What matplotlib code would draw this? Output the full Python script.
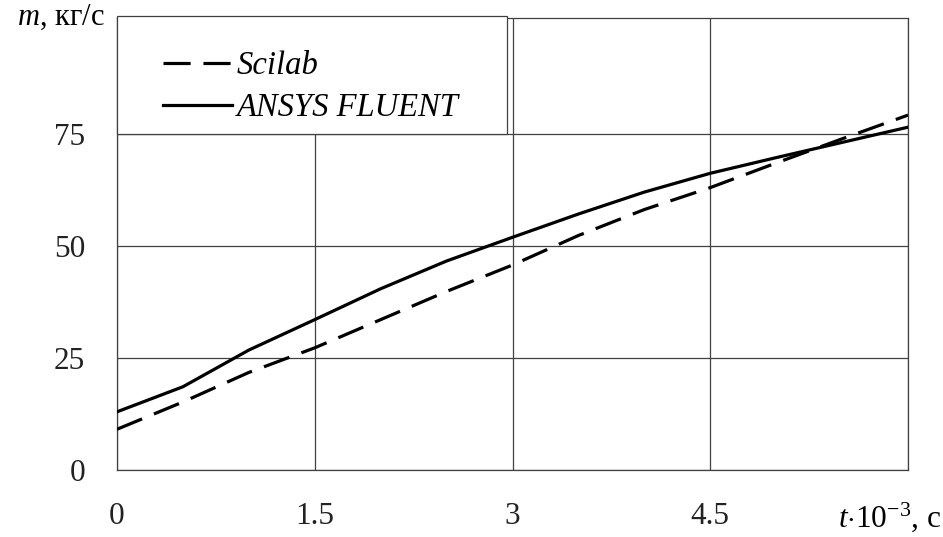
import matplotlib
matplotlib.use('Agg')
import matplotlib.pyplot as plt
from matplotlib.patches import Rectangle

# данные
t = [0, 0.5, 1.0, 1.5, 2.0, 2.5, 3.0, 3.5, 4.0, 4.5, 5.0, 5.5, 6.0]
m_scilab = [9.1, 15.2, 21.8, 27.3, 33.6, 39.9, 45.8, 52.4, 58.2, 63.1, 68.6, 74.0, 79.3]
m_fluent = [13.0, 18.6, 26.8, 33.6, 40.5, 46.7, 52.0, 57.2, 62.1, 66.3, 69.8, 73.2, 76.6]

x_ticks = [0, 1.5, 3, 4.5, 6]
x_labels = ['0', '1.5', '3', '4.5', '']
y_ticks = [0, 25, 50, 75]

plt.rcParams['font.family'] = ['Liberation Serif', 'DejaVu Serif']
plt.rcParams['mathtext.fontset'] = 'custom'
plt.rcParams['mathtext.rm'] = 'Liberation Serif'
plt.rcParams['mathtext.it'] = 'Liberation Serif:italic'

fig = plt.figure(figsize=(9.43, 5.37), dpi=100)
ax = fig.add_axes([117 / 943, 1 - 470 / 537, 791 / 943, 452 / 537])

ax.plot(t, m_scilab, color='black', lw=2.3, dashes=(8.5, 4), label='Scilab', zorder=3)
ax.plot(t, m_fluent, color='black', lw=2.3, label='ANSYS FLUENT', zorder=3)

ax.set_xlim(0, 6)
ax.set_ylim(0, 101)
ax.set_xticks(x_ticks)
ax.set_xticklabels(x_labels)
ax.set_yticks(y_ticks)
ax.tick_params(length=0, labelsize=22.5, colors='#222222')
ax.tick_params(axis='x', pad=23)
ax.tick_params(axis='y', pad=23)
ax.grid(True, color='#404040', lw=0.9)
ax.set_axisbelow(True)
for s in ax.spines.values():
    s.set_color('#404040')
    s.set_linewidth(0.9)

# рамка легенды
ax.add_patch(Rectangle((0, 75), 2.96, 26.5, facecolor='white', edgecolor='#404040',
                       lw=0.9, zorder=4, clip_on=False))
leg = ax.legend(loc='upper left', bbox_to_anchor=(163 / 943, 1 - 51 / 537),
                bbox_transform=fig.transFigure, frameon=False, borderpad=0,
                borderaxespad=0, handlelength=2.1, handletextpad=0.16,
                labelspacing=0.35, prop={'size': 23.5, 'style': 'italic'})
leg.set_zorder(5)

fig.text(105 / 943, 1 - 17 / 537, '$m$, кг/с', fontsize=22, ha='right', va='center')
fig.text(941 / 943, 1 - 517 / 537, r'$t{\cdot}10^{-3}$, с', fontsize=22.5, ha='right', va='center')

plt.savefig('out.png', dpi=100)
